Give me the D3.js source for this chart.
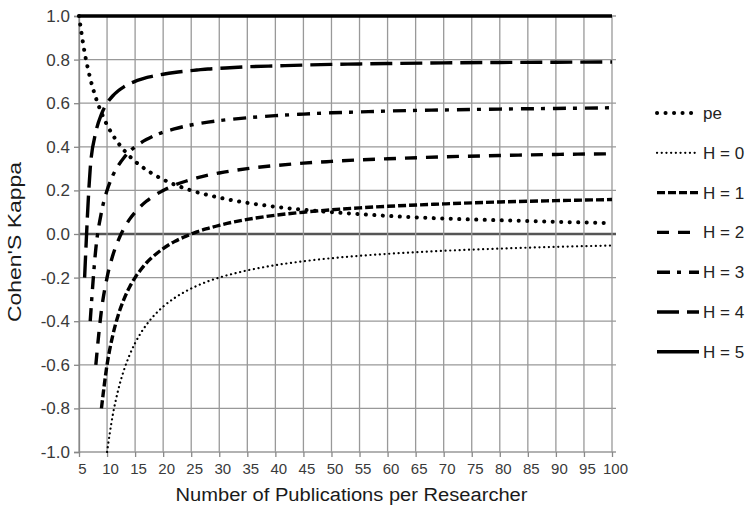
<!DOCTYPE html>
<html>
<head>
<meta charset="utf-8">
<script src="https://cdn.jsdelivr.net/npm/d3@7"></script>
<style>
  body { margin: 0; background: #fff; }
  svg { display: block; font-family: "Liberation Sans", Arial, sans-serif; }
</style>
</head>
<body>
<svg id="chart" width="751" height="510"></svg>
<script>
// number of publications per researcher (x values shared by all series)
const pubs = [5, 6, 7, 8, 9, 10, 11, 12, 13, 14, 15, 16, 17, 18, 20, 22, 24, 26, 28, 30,
              35, 40, 45, 50, 55, 60, 70, 80, 90, 100];

// values, null where the curve is not drawn
const pe = [1.000, 0.833, 0.714, 0.625, 0.556, 0.500, 0.455, 0.417, 0.385, 0.357, 0.333, 0.313, 0.294, 0.278, 0.250, 0.227, 0.208, 0.192, 0.179, 0.167,
            0.143, 0.125, 0.111, 0.100, 0.091, 0.083, 0.071, 0.063, 0.056, 0.050];
const h0 = [null, null, null, null, null, -1.000, -0.833, -0.714, -0.625, -0.556, -0.500, -0.455, -0.417, -0.385, -0.333, -0.294, -0.263, -0.238, -0.217, -0.200,
            -0.167, -0.143, -0.125, -0.111, -0.100, -0.091, -0.077, -0.067, -0.059, -0.053];
const h1 = [null, null, null, null, -0.800, -0.600, -0.467, -0.371, -0.300, -0.244, -0.200, -0.164, -0.133, -0.108, -0.067, -0.035, -0.011, 0.010, 0.026, 0.040,
            0.067, 0.086, 0.100, 0.111, 0.120, 0.127, 0.138, 0.147, 0.153, 0.158];
const h2 = [null, null, null, -0.600, -0.350, -0.200, -0.100, -0.029, 0.025, 0.067, 0.100, 0.127, 0.150, 0.169, 0.200, 0.224, 0.242, 0.257, 0.270, 0.280,
            0.300, 0.314, 0.325, 0.333, 0.340, 0.345, 0.354, 0.360, 0.365, 0.368];
const h3 = [null, null, -0.400, -0.067, 0.100, 0.200, 0.267, 0.314, 0.350, 0.378, 0.400, 0.418, 0.433, 0.446, 0.467, 0.482, 0.495, 0.505, 0.513, 0.520,
            0.533, 0.543, 0.550, 0.556, 0.560, 0.564, 0.569, 0.573, 0.576, 0.579];
const h4 = [null, -0.200, 0.300, 0.467, 0.550, 0.600, 0.633, 0.657, 0.675, 0.689, 0.700, 0.709, 0.717, 0.723, 0.733, 0.741, 0.747, 0.752, 0.757, 0.760,
            0.767, 0.771, 0.775, 0.778, 0.780, 0.782, 0.785, 0.787, 0.788, 0.789];
const h5 = [1, 1, 1, 1, 1, 1, 1, 1, 1, 1, 1, 1, 1, 1, 1, 1, 1, 1, 1, 1,
            1, 1, 1, 1, 1, 1, 1, 1, 1, 1];

const seriesNames = ["pe", "H = 0", "H = 1", "H = 2", "H = 3", "H = 4", "H = 5"];
const xTicks = d3.range(5, 101, 5);
const yTicks = [-1, -0.8, -0.6, -0.4, -0.2, 0, 0.2, 0.4, 0.6, 0.8, 1];

// line looks for every series
const styles = [
  { w: 4,   dash: "0.1,8.4", cap: "round" },   // pe
  { w: 2.2, dash: "0.1,4.6", cap: "round" },   // H = 0
  { w: 3.4, dash: "8,3",     cap: "butt" },    // H = 1
  { w: 3.4, dash: "12,9",    cap: "butt" },    // H = 2
  { w: 3.4, dash: "13,7,4,8", cap: "butt" },   // H = 3
  { w: 3.4, dash: "22,8",    cap: "butt" },    // H = 4
  { w: 3.4, dash: null,      cap: "butt" }     // H = 5
];

const series = [pe, h0, h1, h2, h3, h4, h5].map(function(vals, i) {
  return { name: seriesNames[i], style: styles[i],
           points: pubs.map(function(p, j) { return { x: p, y: vals[j] }; }) };
});

const svg = d3.select("#chart");
const plot = { left: 79, right: 612, top: 16, bottom: 452 };

const x = d3.scaleLinear().domain([5, 100]).range([plot.left, plot.right]);
const y = d3.scaleLinear().domain([-1, 1]).range([plot.bottom, plot.top]);

// gridlines
svg.append("g").selectAll("line.h").data(yTicks).enter()
  .append("line")
    .attr("x1", plot.left).attr("x2", plot.right + 4)
    .attr("y1", function(d) { return y(d); }).attr("y2", function(d) { return y(d); })
    .attr("stroke", function(d) { return d === 0 ? "#555" : "#999"; })
    .attr("stroke-width", function(d) { return d === 0 ? 2.4 : 1.3; });

svg.append("g").selectAll("line.v").data(xTicks).enter()
  .append("line")
    .attr("x1", function(d) { return x(d); }).attr("x2", function(d) { return x(d); })
    .attr("y1", plot.top).attr("y2", plot.bottom)
    .attr("stroke", "#999").attr("stroke-width", 1.3);

// axes
let yAxis = d3.axisLeft(y).tickValues(yTicks).tickSize(5).tickPadding(4)
  .tickFormat(d3.format(".1f"));
let gy = svg.append("g").attr("transform", "translate(" + plot.left + ",0)").call(yAxis);
gy.select(".domain").attr("stroke", "#888").attr("stroke-width", 1.3);
gy.selectAll(".tick line").attr("stroke", "#888").attr("stroke-width", 1.3);
gy.selectAll(".tick text")
  .text(function(d) { return d3.format(".1f")(d).replace("\u2212", "-"); })
  .attr("font-size", 17).attr("fill", "#3a3a3a")
  .attr("font-family", "'Liberation Sans', Arial, sans-serif");

let xAxis = d3.axisBottom(x).tickValues(xTicks).tickSize(5).tickPadding(6);
let gx = svg.append("g").attr("transform", "translate(0," + plot.bottom + ")").call(xAxis);
gx.select(".domain").remove();
gx.selectAll(".tick line").attr("stroke", "#888").attr("stroke-width", 1.3);
gx.selectAll(".tick text")
  .attr("font-size", 15).attr("fill", "#3a3a3a")
  .attr("dx", 3)
  .attr("font-family", "'Liberation Sans', Arial, sans-serif");

// series curves
let line = d3.line()
  .defined(function(d) { return d.y !== null; })
  .x(function(d) { return x(d.x); })
  .y(function(d) { return y(d.y); })
  .curve(d3.curveMonotoneX);

svg.append("g").selectAll("path").data(series).enter()
  .append("path")
    .attr("d", function(d) { return line(d.points); })
    .attr("fill", "none")
    .attr("stroke", "#000")
    .attr("stroke-width", function(d) { return d.style.w; })
    .attr("stroke-linecap", function(d) { return d.style.cap; })
    .attr("stroke-dasharray", function(d) { return d.style.dash; });

// legend
let legend = svg.append("g").selectAll("g").data(series).enter()
  .append("g")
    .attr("transform", function(d, i) { return "translate(657," + (113 + i * 39.8) + ")"; });

legend.append("line")
  .attr("x1", 0).attr("x2", 42).attr("y1", 0).attr("y2", 0)
  .attr("stroke", "#000")
  .attr("stroke-width", function(d) { return d.style.w; })
  .attr("stroke-linecap", function(d) { return d.style.cap; })
  .attr("stroke-dasharray", function(d) { return d.style.dash; });

legend.append("text")
  .attr("x", 46).attr("y", 0).attr("dy", "0.35em")
  .attr("font-size", 17).attr("fill", "#222")
  .text(function(d) { return d.name; });

// axis titles
svg.append("text")
  .attr("x", (plot.left + plot.right) / 2 + 6).attr("y", 501)
  .attr("text-anchor", "middle")
  .attr("font-size", 18).attr("fill", "#1a1a1a")
  .attr("textLength", 352).attr("lengthAdjust", "spacingAndGlyphs")
  .text("Number of Publications per Researcher");

svg.append("text")
  .attr("transform", "translate(21,242) rotate(-90)")
  .attr("text-anchor", "middle")
  .attr("font-size", 18).attr("fill", "#1a1a1a")
  .attr("textLength", 160).attr("lengthAdjust", "spacingAndGlyphs")
  .text("Cohen'S Kappa");
</script>
</body>
</html>
